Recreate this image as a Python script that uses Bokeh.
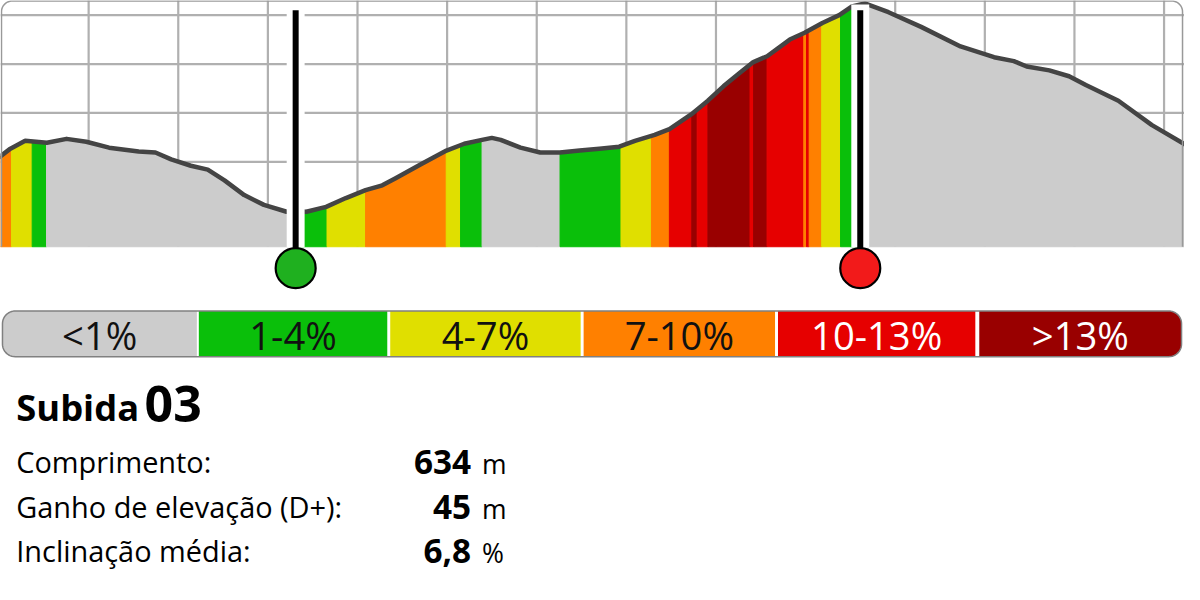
import numpy as np
from bokeh.plotting import figure
from bokeh.models import Range1d, ColumnDataSource, Label
from bokeh.embed import file_html
from bokeh.resources import INLINE

# ---------------- data ----------------
# elevation profile (distance in m, elevation in m)
dist_m = [0, 12.7, 29.2, 53.4, 75.4, 97.4, 122.8, 155.8, 174.5, 192.1,
          214.1, 232.9, 251.6, 273.6, 295.6, 320.9, 343.0, 365.0, 387.0, 409.0,
          427.7, 442.0, 471.8, 499.3, 519.1, 538.9, 549.9, 559.8, 581.9, 603.9,
          625.9, 647.9, 669.9, 692.0, 709.6, 731.6, 748.1, 772.3, 791.0, 808.6,
          827.4, 841.7, 857.1, 882.4, 898.9, 918.7, 937.5, 951.8, 966.1, 992.5,
          1028.9, 1072.9, 1110.3, 1132.4, 1146.7, 1172.0, 1194.0, 1212.7, 1249.0, 1286.5,
          1325]
elev_m = [70.9, 72.7, 74.3, 73.9, 74.7, 74.1, 72.9, 72.1, 71.9, 70.5,
          69.2, 68.4, 66.2, 63.2, 61.2, 59.8, 59.8, 60.8, 62.6, 64.2,
          65.2, 66.6, 69.6, 72.3, 73.7, 74.5, 74.9, 74.5, 72.9, 71.9,
          71.9, 72.3, 72.7, 73.1, 74.3, 75.5, 76.7, 79.7, 82.5, 85.5,
          88.3, 90.4, 91.6, 95.0, 96.4, 98.4, 100.0, 101.8, 102.4, 100.6,
          97.6, 93.6, 91.4, 90.6, 89.5, 88.7, 87.5, 85.7, 82.5, 77.5,
          73.4]

# gradient segments: boundaries (m) and gradient class of each segment
seg_bounds = [0, 14, 37, 53, 330, 366, 409, 499, 515, 539, 626, 694, 728, 748,
              773, 779, 791, 838, 842, 857, 898, 901, 904, 918, 939, 962, 1325]
seg_class = [3, 2, 1, 0, 1, 2, 3, 2, 1, 0, 1, 2, 3, 4, 5, 4, 5, 4, 5, 4, 3, 4, 3, 2, 1, 0]

grade_labels = ["<1%", "1-4%", "4-7%", "7-10%", "10-13%", ">13%"]
grade_colors = ["#cccccc", "#0abf0a", "#e0df00", "#ff8000", "#e60000", "#990000"]
grade_text_colors = ["#111111", "#111111", "#111111", "#111111", "#ffffff", "#ffffff"]

climb_start = 331
climb_end = 961

title_word = "Subida"
title_num = "03"
stat_labels = ["Comprimento:", "Ganho de elevação (D+):", "Inclinação média:"]
stat_values = ["634", "45", "6,8"]
stat_units = ["m", "m", "%"]

# ---------------- figure ----------------
W, H = 1184, 584
F = 0.98  # font scale (page is drawn slightly smaller than 1200x600)

X0, X1 = 1.65, 1322.8
Y0, Y1 = -16.42, 102.99
BASE = 52.64

p = figure(width=W, height=H, x_range=Range1d(X0, X1), y_range=Range1d(Y0, Y1),
           output_backend="svg", toolbar_location=None, x_axis_type=None, y_axis_type=None,
           min_border=0, outline_line_color=None)
p.grid.visible = False
p.background_fill_color = "white"
p.border_fill_color = "white"
p.extra_x_ranges = {"px": Range1d(0, 1200)}
p.extra_y_ranges = {"px": Range1d(600, 0)}

# grid
vx = list(range(100, 1400, 100))
p.segment(x0=vx, y0=[BASE] * len(vx), x1=vx, y1=[Y1] * len(vx),
          line_color="#b0b0b0", line_width=2.2)
hy = [60, 70, 80, 90, 100]
p.segment(x0=[X0] * len(hy), y0=hy, x1=[X1] * len(hy), y1=hy,
          line_color="#b0b0b0", line_width=2.2)

# coloured profile segments
d = np.array(dist_m)
e = np.array(elev_m)
xs, ys, cs = [], [], []
for i, c in enumerate(seg_class):
    a, b = seg_bounds[i], seg_bounds[i + 1]
    inner = (d > a) & (d < b)
    px = [a] + list(d[inner]) + [b, b, a]
    py = [float(np.interp(a, d, e))] + list(e[inner]) + [float(np.interp(b, d, e)), BASE, BASE]
    xs.append(px)
    ys.append(py)
    cs.append(grade_colors[c])
p.patches(xs="xs", ys="ys", fill_color="cs", line_color="cs", line_width=1,
          source=ColumnDataSource(dict(xs=xs, ys=ys, cs=cs)))

# profile outline
p.line(dist_m, elev_m, line_color="#444444", line_width=4.5, line_join="round")


# frame with rounded top corners (px coordinates)
def arc(cx, cy, r, a0, a1, n=12):
    t = np.linspace(a0, a1, n)
    return list(cx + r * np.cos(t)), list(cy + r * np.sin(t))


fx, fy = [1.0], [253]
ax_, ay_ = arc(12, 11.5, 11, np.pi, 1.5 * np.pi)
fx += ax_; fy += ay_
ax_, ay_ = arc(1187, 11.5, 11, 1.5 * np.pi, 2 * np.pi)
fx += ax_; fy += ay_
fx += [1198]; fy += [253]
p.line(fx, fy, line_color="#999999", line_width=1.5, x_range_name="px", y_range_name="px")

# markers
for xm, col in [(climb_start, "#1fb01f"), (climb_end, "#f21a1a")]:
    p.quad(left=[xm - 10], right=[xm + 10], top=[4], bottom=[253.5], fill_color="white",
           line_color=None, y_range_name="px")
    p.segment(x0=[xm], y0=[10], x1=[xm], y1=[262], line_color="black", line_width=6,
              y_range_name="px")
    p.scatter(x=[xm], y=[275], size=40, marker="circle", fill_color=col, line_color="black",
              line_width=2.2, y_range_name="px")


# legend bar
def rounded_box(x0, y0, x1, y1, r, left, right, n=12):
    bx, by = [], []
    if left:
        a, b = arc(x0 + r, y0 + r, r, np.pi, 1.5 * np.pi, n); bx += a; by += b
    else:
        bx.append(x0); by.append(y0)
    if right:
        a, b = arc(x1 - r, y0 + r, r, 1.5 * np.pi, 2 * np.pi, n); bx += a; by += b
        a, b = arc(x1 - r, y1 - r, r, 0, 0.5 * np.pi, n); bx += a; by += b
    else:
        bx += [x1, x1]; by += [y0, y1]
    if left:
        a, b = arc(x0 + r, y1 - r, r, 0.5 * np.pi, np.pi, n); bx += a; by += b
    else:
        bx.append(x0); by.append(y1)
    return bx, by


leg_edges = [(2, 199), (201, 392), (395, 588), (591, 785), (788, 988), (992, 1197)]
LY0, LY1 = 319, 366
lxs, lys = [], []
n_leg = len(grade_labels)
for i, (a, b) in enumerate(leg_edges):
    bx, by = rounded_box(a, LY0, b, LY1, 13, i == 0, i == n_leg - 1)
    lxs.append(bx)
    lys.append(by)
p.patches(xs="xs", ys="ys", fill_color="c", line_color=None,
          source=ColumnDataSource(dict(xs=lxs, ys=lys, c=grade_colors)),
          x_range_name="px", y_range_name="px")
ox, oy = rounded_box(2, LY0, 1197, LY1, 13, True, True)
p.patch(ox + [ox[0]], oy + [oy[0]], fill_color=None, line_color="#808080", line_width=1.5,
        x_range_name="px", y_range_name="px")

SHIFT = 0.31  # empirical baseline correction (em)


def lab(x, y, t, size, bold=False, align="left", color="#000000"):
    p.add_layout(Label(x=x, y=y - SHIFT * size, text=t, text_font="Open Sans",
                       text_font_size=f"{size * F:.1f}px",
                       text_font_style="bold" if bold else "normal", text_color=color,
                       text_align=align, text_baseline="alphabetic",
                       x_range_name="px", y_range_name="px"))


for (a, b), t, tc in zip(leg_edges, grade_labels, grade_text_colors):
    lab((a + b) / 2, 356, t, 39, align="center", color=tc)

# texts
lab(16, 429, title_word, 37, bold=True)
lab(146, 430, title_num, 51, bold=True)
rows_y = [483, 529, 574]
for lbl, val, unit, yy in zip(stat_labels, stat_values, stat_units, rows_y):
    lab(16, yy, lbl, 29.5)
    lab(477, yy + 2, val, 34, bold=True, align="right")
    lab(488, yy + 2, unit, 27)

open("out.html", "w").write(file_html(p, INLINE))
